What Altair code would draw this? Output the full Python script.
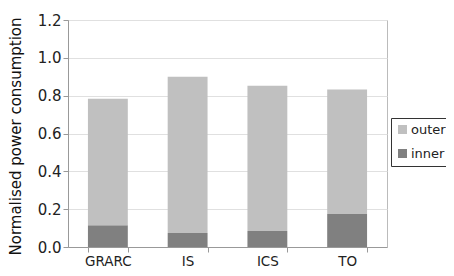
import altair as alt
import pandas as pd

categories = ["GRARC", "IS", "ICS", "TO"]
inner = [0.115, 0.074, 0.085, 0.174]
outer = [0.669, 0.826, 0.768, 0.658]

rows = []
for c, i, o in zip(categories, inner, outer):
    rows.append({"cat": c, "part": "inner", "value": i, "ord": 0})
    rows.append({"cat": c, "part": "outer", "value": o, "ord": 1})
df = pd.DataFrame(rows)

chart = alt.Chart(df).mark_bar().encode(
    x=alt.X("cat:N", sort=categories, title=None,
            scale=alt.Scale(paddingInner=0.5, paddingOuter=0.25),
            axis=alt.Axis(labelAngle=0, tickBand="extent", labelFontSize=13.5,
                          labelFont="DejaVu Sans", labelColor="#222",
                          domainColor="#999", tickColor="#999", tickSize=5,
                          labelPadding=2)),
    y=alt.Y("value:Q", stack="zero", title="Normalised power consumption",
            scale=alt.Scale(domain=[0, 1.2]),
            axis=alt.Axis(values=[0, 0.2, 0.4, 0.6, 0.8, 1.0, 1.2], format=".1f",
                          labelFontSize=15, labelFont="DejaVu Sans", labelColor="#222",
                          domainColor="#999", tickColor="#999", tickSize=5,
                          gridColor="#e0e0e0", titleFontSize=15, titleFont="DejaVu Sans",
                          titleFontWeight="normal", titleColor="#111",
                          titleAngle=270, titleX=-53, titleY=116,
                          titleAlign="center", titleBaseline="middle")),
    color=alt.Color("part:N", scale=alt.Scale(domain=["outer", "inner"], range=["#c0c0c0", "#808080"]),
                    legend=alt.Legend(title=None, orient="none", legendX=323, legendY=98,
                                      strokeColor="#333", padding=5, symbolType="square",
                                      symbolSize=81, symbolStrokeWidth=0, labelFontSize=13,
                                      labelFont="DejaVu Sans", labelColor="#222", rowPadding=10,
                                      labelOffset=2)),
    order=alt.Order("ord:Q"),
).properties(
    width=319, height=227,
    autosize=alt.AutoSizeParams(type="none"),
    padding={"left": 60, "top": 12, "right": 59, "bottom": 21},
).configure_view(stroke="#bbbbbb")

chart.save("out.html", embed_options={"renderer": "svg", "actions": False})
